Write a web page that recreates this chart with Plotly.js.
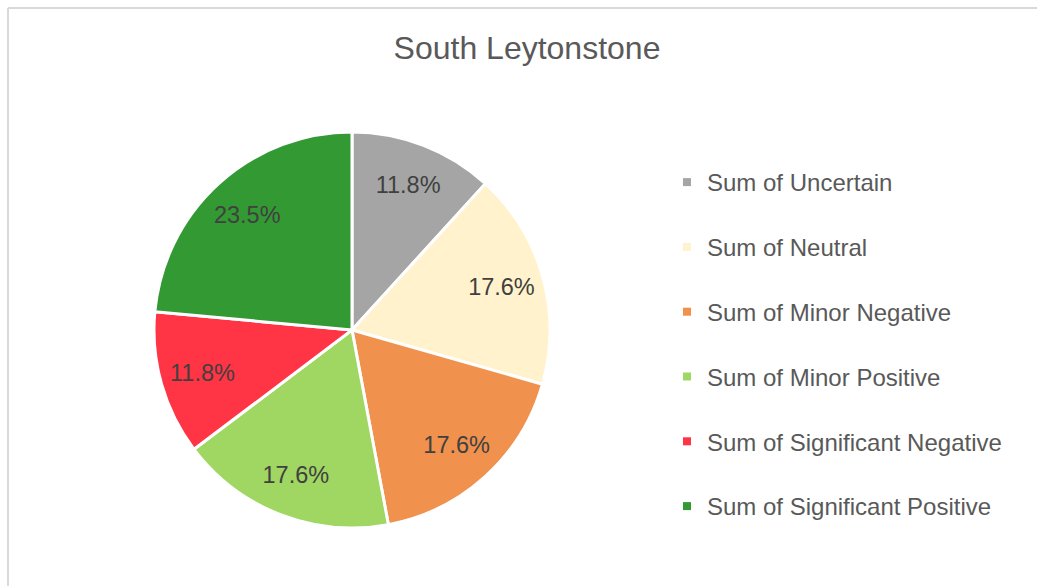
<!DOCTYPE html>
<html>
<head>
<meta charset="utf-8">
<script src="https://cdn.plot.ly/plotly-3.0.1.min.js"></script>
<style>
  html, body { margin: 0; padding: 0; background: #ffffff; }
  #chart { width: 1037px; height: 586px; }
</style>
</head>
<body>
<div id="chart"></div>
<script>
const categories = ["Sum of Uncertain", "Sum of Neutral", "Sum of Minor Negative", "Sum of Minor Positive", "Sum of Significant Negative", "Sum of Significant Positive"];
const counts = [2, 3, 3, 3, 2, 4];
const colors = ["#A5A5A5", "#FFF2CC", "#F0914D", "#A0D662", "#FF3444", "#339933"];
const chartTitle = "South Leytonstone";

const W = 1037, H = 586;
const cx = 352, cy = 330, R = 198;
const pieDomain = { x: [(cx - R) / W, (cx + R) / W], y: [1 - (cy + R) / H, 1 - (cy - R) / H] };
const labelFont = { family: "Liberation Sans, Arial, sans-serif", size: 23.5, color: "#404040" };

// Main pie: the coloured slices
const pieTrace = {
  type: "pie",
  labels: categories,
  values: counts,
  sort: false,
  direction: "clockwise",
  rotation: 0,
  marker: { colors: colors, line: { color: "#ffffff", width: 3 } },
  textinfo: "none",
  hoverinfo: "label+value+percent",
  showlegend: false,
  domain: pieDomain
};

// Transparent ring over the pie, used only to place the percentage labels
// at the same distance from the centre as the reference does.
const labelRing = {
  type: "pie",
  labels: categories,
  values: counts,
  sort: false,
  direction: "clockwise",
  rotation: 0,
  hole: 0.57,
  marker: { colors: categories.map(() => "rgba(0,0,0,0)"), line: { width: 0 } },
  texttemplate: "%{percent:.1%}",
  textposition: "inside",
  insidetextorientation: "horizontal",
  textfont: labelFont,
  hoverinfo: "label+value+percent",
  showlegend: false,
  domain: pieDomain
};

const legendTraces = categories.map((name, i) => ({
  type: "scatter",
  mode: "markers",
  x: [null],
  y: [null],
  name: name,
  legendgroup: "g" + i,
  showlegend: true,
  marker: { symbol: "square", size: 8, color: colors[i] },
  hoverinfo: "skip"
}));

const layout = {
  width: W,
  height: H,
  margin: { l: 0, r: 0, t: 0, b: 0 },
  paper_bgcolor: "#ffffff",
  plot_bgcolor: "#ffffff",
  title: {
    text: chartTitle,
    font: { family: "Liberation Sans, Arial, sans-serif", size: 32, color: "#595959" },
    x: 527 / W,
    xanchor: "center",
    y: 1 - 48 / H,
    yanchor: "middle"
  },
  xaxis: { visible: false },
  yaxis: { visible: false },
  showlegend: true,
  legend: {
    x: (707 - 40) / W,
    xanchor: "left",
    y: 1 - 160 / H,
    yanchor: "top",
    traceorder: "grouped",
    tracegroupgap: 30.6,
    bgcolor: "rgba(0,0,0,0)",
    font: { family: "Liberation Sans, Arial, sans-serif", size: 24, color: "#595959" }
  },
  shapes: [
    { type: "line", xref: "paper", yref: "paper", x0: 8 / W, x1: 8 / W, y0: 0, y1: 1 - 8 / H, line: { color: "#D9D9D9", width: 2 } },
    { type: "line", xref: "paper", yref: "paper", x0: 8 / W, x1: 1, y0: 1 - 8 / H, y1: 1 - 8 / H, line: { color: "#D9D9D9", width: 2 } }
  ]
};

Plotly.newPlot("chart", [pieTrace, labelRing].concat(legendTraces), layout, { displayModeBar: false, responsive: false });
</script>
</body>
</html>
